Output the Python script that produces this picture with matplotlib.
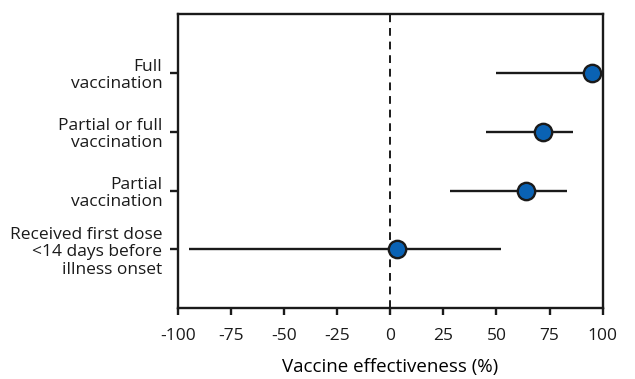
import matplotlib
matplotlib.use("Agg")
import matplotlib.pyplot as plt

categories = ["Full\nvaccination", "Partial or full\nvaccination", "Partial\nvaccination",
              "Received first dose\n<14 days before\nillness onset"]
estimates = [95, 72, 64, 3]
ci_lower = [50, 45, 28, -94.5]
ci_upper = [99, 86, 83, 52]
xticks = [-100, -75, -50, -25, 0, 25, 50, 75, 100]

plt.rcParams['font.family'] = ['Open Sans', 'DejaVu Sans']

fig = plt.figure(figsize=(6.35, 3.79), dpi=100)
ax = fig.add_axes([177.7 / 635, 1 - 308.3 / 379, (602.7 - 177.7) / 635, (308.3 - 14) / 379])

ypos = list(range(1, len(categories) + 1))
for y, e, lo, hi in zip(ypos, estimates, ci_lower, ci_upper):
    ax.plot([lo, hi], [y, y], color="#1a1a1a", lw=1.7, zorder=2, solid_capstyle='butt')
    ax.plot([e], [y], marker="o", ms=12.5, mfc="#0a62b4", mec="#1a1a1a", mew=1.7, zorder=3)

ax.axvline(0, color="#1a1a1a", lw=1.4, ls=(0, (4, 3)), zorder=1)

ax.set_xlim(-100, 100)
ax.set_ylim(len(categories) + 1, 0)
ax.set_yticks(ypos)
ax.set_yticklabels(categories, fontsize=12.5, linespacing=1.12)
ax.set_xticks(xticks)
ax.set_xticklabels([str(t) for t in xticks], fontsize=12.5)
ax.set_xlabel("Vaccine effectiveness (%)", fontsize=13.5, labelpad=10)

for s in ax.spines.values():
    s.set_linewidth(1.7)
    s.set_color("#1a1a1a")
ax.tick_params(axis='y', length=6, width=1.7, pad=5, colors="#1a1a1a")
ax.tick_params(axis='x', length=5, width=1.7, pad=9, colors="#1a1a1a")

fig.savefig("out.png", dpi=100, facecolor="white")
